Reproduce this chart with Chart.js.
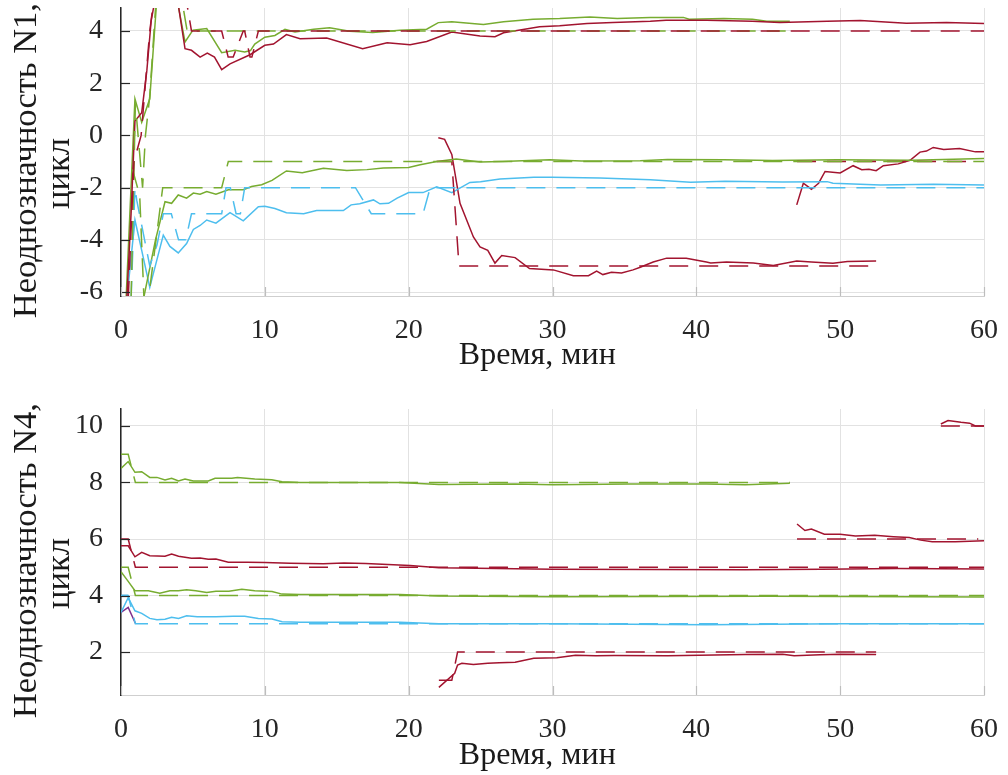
<!DOCTYPE html>
<html>
<head>
<meta charset="utf-8">
<script src="https://cdn.jsdelivr.net/npm/chart.js@4.4.1/dist/chart.umd.min.js"></script>
<style>
  body { margin: 0; background: #fff; }
  canvas { position: absolute; left: 0; }
  #c1 { top: 0; }
  #c2 { top: 400px; }
</style>
</head>
<body>
<canvas id="c1" width="1008" height="400"></canvas>
<canvas id="c2" width="1008" height="375"></canvas>
<script>
// colours (MATLAB palette)
var RED = '#A2142F', GREEN = '#77AC30', CYAN = '#4DBEEE', PURPLE = '#7E2F8E', BLUE = '#0072BD';

var xTicks = [0, 10, 20, 30, 40, 50, 60];
var n1Ticks = [-6, -4, -2, 0, 2, 4];
var n4Ticks = [2, 4, 6, 8, 10];

// ---- N1 (top panel): [time, ambiguity] ----
var n1RedA = [[0.4,-6.3],[0.7,-3],[0.97,0.55],[1.44,0.87],[1.8,2.5],[2.1,4.4],[2.4,5.3],[3.2,7],[3.9,5.3],[4.45,3.32],[4.9,3.26],[5.5,3.0],[6.0,3.15],[6.5,3.0],[7.0,2.52],[7.58,2.74],[8.97,3.09],[10.0,3.45],[10.6,3.5],[11.5,3.86],[12.45,3.7],[14.3,3.73],[16.8,3.32],[18.5,3.55],[20.1,3.47],[21.25,3.6],[23.0,3.96],[24.96,3.81],[26.0,3.78],[26.6,3.93],[29.1,4.16],[30.5,4.2],[32.4,4.29],[34.2,4.32],[36.8,4.37],[37.9,4.41],[40.7,4.41],[43.9,4.37],[45.8,4.32],[49.1,4.37],[51.4,4.4],[54.6,4.3],[57.4,4.32],[60,4.29]];
var n1RedAFix = [[0.5,-6.3],[0.9,-1],[1.4,0],[1.7,2],[2.0,4],[2.3,5.3],[4.5,5.3],[4.9,4],[7.0,4],[7.45,3],[7.8,3],[8.5,4],[8.6,4],[8.97,3],[9.1,3],[9.55,4],[60,4]];
var n1GreenA = [[0.35,-6.3],[0.97,1.4],[1.44,0.5],[2.0,1.4],[2.5,5.3],[3.5,6],[3.97,5.0],[4.45,3.58],[5.0,4.03],[5.96,4.09],[7.0,3.17],[7.93,3.26],[8.6,3.2],[9.0,3.25],[9.3,3.5],[10.0,3.76],[10.7,3.83],[11.4,4.06],[12.1,3.96],[13.4,4.07],[14.5,4.12],[15.9,3.99],[17.5,3.94],[19.4,4.03],[21.25,4.07],[22.06,4.32],[23.0,4.35],[24.0,4.31],[25.2,4.25],[26.6,4.35],[28.65,4.45],[30.5,4.48],[32.6,4.54],[34.5,4.48],[36.8,4.52],[39.1,4.52],[39.5,4.45],[41.9,4.48],[43.9,4.45],[44.9,4.37],[46.5,4.37]];
var n1GreenAFix = [[0.7,-6.3],[1.0,1.2],[1.5,-2],[1.7,0],[2.0,1.5],[2.45,5.3],[4.2,5.3],[4.6,4],[46.5,4]];
var n1GreenB = [[1.55,-6.3],[2.4,-4],[3.06,-2.54],[3.52,-2.6],[3.98,-2.28],[4.56,-2.4],[5.03,-2.21],[5.5,-2.25],[5.96,-2.15],[6.6,-2.25],[7.46,-2.08],[8.5,-2.08],[9.08,-1.96],[9.78,-1.89],[10.5,-1.72],[11.5,-1.36],[12.6,-1.43],[14.07,-1.26],[15.7,-1.34],[17.1,-1.31],[18.24,-1.25],[20.0,-1.23],[20.8,-1.12],[21.95,-1.0],[23.3,-0.9],[24.96,-1.02],[26.5,-1.0],[29.8,-0.93],[32,-0.98],[36.1,-0.97],[38,-0.92],[41.9,-0.93],[45.3,-0.96],[49.8,-0.93],[55,-0.95],[60,-0.88]];
var n1GreenBFix = [[0.8,-1.3],[1.3,-2.3],[1.6,-6.3],[1.9,-6.3],[2.9,-2],[7.0,-2],[7.46,-1],[60,-1]];
var n1Cyan = [[0.4,-6.3],[0.97,-3.24],[1.44,-4.4],[2.0,-5.82],[2.94,-3.82],[3.4,-4.25],[3.98,-4.5],[4.56,-4.14],[5.03,-3.6],[5.5,-3.45],[5.96,-3.24],[6.6,-3.36],[7.58,-2.96],[8.5,-3.27],[9.55,-2.73],[10.0,-2.71],[10.7,-2.8],[11.5,-2.96],[12.7,-3.0],[13.6,-2.88],[15.46,-2.88],[16.0,-2.66],[16.6,-2.62],[17.55,-2.47],[18.0,-2.62],[18.6,-2.6],[19.2,-2.4],[20.0,-2.19],[21.0,-2.19],[21.95,-1.97],[23.0,-2.19],[24.26,-1.8],[25.0,-1.77],[26.35,-1.67],[28.7,-1.6],[29.95,-1.6],[33.3,-1.63],[36.8,-1.7],[39.6,-1.79],[42,-1.76],[46,-1.78],[49.1,-1.77],[49.5,-1.83],[52.8,-1.9],[56.5,-1.87],[60,-1.9]];
var n1CyanFix = [[0.7,-6.3],[0.97,-2],[1.1,-2.5],[2.0,-5],[2.5,-4.2],[2.94,-3],[3.5,-3],[4.0,-4],[4.5,-4],[4.9,-3],[7.0,-3],[7.3,-2],[7.6,-2],[8.0,-3],[8.3,-3],[8.6,-2],[16.3,-2],[17.4,-3],[21.0,-3],[21.5,-2],[60,-2]];
var n1RedB = [[22.06,-0.09],[22.5,-0.15],[23.0,-0.73],[23.57,-2.6],[24.5,-3.89],[24.96,-4.27],[25.5,-4.4],[26.0,-4.89],[26.47,-4.6],[27.4,-4.68],[28.4,-5.1],[30.06,-5.15],[31.45,-5.37],[32.5,-5.37],[33.07,-5.2],[33.5,-5.33],[34.1,-5.24],[34.8,-5.27],[35.6,-5.15],[36.1,-5.05],[37.0,-4.85],[37.94,-4.7],[39.3,-4.7],[40.7,-4.85],[41.0,-4.89],[42.1,-4.85],[43.96,-4.89],[45.35,-4.98],[46.98,-4.81],[48,-4.85],[49.5,-4.9],[50.5,-4.83],[52.5,-4.81]];
var n1RedBFix = [[21.95,-1],[23.0,-1],[23.5,-5],[52.3,-5]];
var n1RedC = [[46.98,-2.66],[47.44,-1.83],[48.0,-2.06],[48.5,-1.83],[48.95,-1.38],[50.0,-1.44],[50.9,-1.16],[51.5,-1.31],[52.0,-1.3],[52.5,-1.35],[53.0,-1.16],[54.04,-1.09],[54.86,-0.95],[55.55,-0.64],[56.0,-0.6],[56.47,-0.46],[57.2,-0.54],[58.3,-0.5],[59.4,-0.63],[60,-0.63]];
var n1RedCFix = [[47.0,-1],[59.5,-1]];

// ---- N4 (bottom panel) ----
var n4GreenA = [[0,8.5],[0.5,8.74],[0.97,8.36],[1.44,8.38],[2.0,8.18],[2.5,8.18],[3.06,8.09],[3.52,8.15],[4.0,8.05],[4.45,8.12],[5.03,8.05],[6.07,8.05],[6.54,8.15],[7.7,8.15],[8.1,8.18],[9.3,8.12],[10.48,8.1],[11.2,8.03],[12.45,8.0],[19.4,8.0],[22.1,7.93],[27.4,7.95],[30.05,7.92],[35.4,7.95],[40.7,7.95],[43.4,7.92],[46.5,7.97]];
var n4GreenAFix = [[0,9],[0.5,9],[1.0,8],[46.5,8]];
var n4RedA = [[0,5.76],[0.5,5.76],[0.97,5.37],[1.44,5.53],[2.0,5.41],[3.06,5.39],[3.52,5.47],[4.0,5.39],[4.9,5.32],[5.5,5.33],[6.07,5.28],[6.6,5.29],[7.46,5.18],[8.8,5.18],[10.0,5.17],[11.75,5.14],[14.07,5.12],[15.5,5.15],[17,5.13],[20.1,5.06],[22.1,4.98],[30.05,4.93],[43.4,4.91],[48.7,4.93],[54.0,4.96],[60,4.94]];
var n4RedAFix = [[0,6],[0.5,6],[1.0,5],[60,5]];
var n4GreenB = [[0,4.84],[0.5,4.5],[0.97,4.17],[1.9,4.17],[2.7,4.08],[3.4,4.17],[4.0,4.17],[4.56,4.2],[5.2,4.17],[5.96,4.11],[6.6,4.15],[7.5,4.15],[8.4,4.22],[9.3,4.17],[10.5,4.14],[11.2,4.05],[12.45,4.04],[19.4,4.04],[22.1,3.98],[30,3.96],[45,3.97],[60,3.95]];
var n4GreenBFix = [[0,5],[0.5,5],[1.0,4],[60,4]];
var n4Cyan = [[0,3.4],[0.5,3.92],[0.97,3.46],[1.44,3.37],[2.0,3.19],[2.5,3.14],[3.06,3.16],[3.52,3.23],[4.0,3.19],[4.56,3.28],[5.3,3.25],[6.6,3.25],[7.8,3.27],[8.6,3.27],[9.55,3.19],[10.5,3.17],[11.2,3.07],[12.45,3.05],[19.4,3.05],[22.1,3.0],[30,3.0],[40.7,2.97],[50,3.0],[60,3.0]];
var n4CyanFix = [[0,4],[0.5,4],[1.0,3],[60,3]];
var n4Blue = [[0,4],[0.5,4]];
var n4Purple = [[0,3.4],[0.5,3.58],[1.0,3.02]];
var n4RedB = [[22.1,0.75],[23.2,1.25],[23.4,1.54],[23.7,1.6],[24.5,1.56],[25.5,1.6],[26.3,1.62],[27.4,1.64],[28.7,1.78],[30.3,1.8],[31.6,1.89],[33.0,1.87],[34.3,1.88],[38.0,1.87],[40.2,1.89],[43.4,1.91],[46.0,1.92],[46.8,1.87],[48.6,1.9],[50.0,1.92],[52.5,1.91]];
var n4RedBFix = [[22.1,1],[23.0,1],[23.4,2],[52.5,2]];
var n4RedC = [[47.0,6.53],[47.55,6.3],[48.0,6.35],[48.9,6.17],[50.0,6.17],[51.06,6.11],[52.4,6.13],[53.7,6.08],[54.8,6.05],[55.6,5.96],[56.4,5.9],[58.0,5.9],[60,5.94]];
var n4RedCFix = [[47.0,6],[59.6,6]];
var n4RedD = [[57.0,10.07],[57.5,10.19],[58.4,10.13],[59.0,10.1],[59.4,10.0],[60,10.0]];
var n4RedDFix = [[57.0,10],[60,10]];

var SERIF = '"Liberation Serif", "Times New Roman", serif';
var xTitle = 'Время, мин   \u2009';

function ds(points, color, dashed) {
    return {
        data: points.map(function (p) { return {x: p[0], y: p[1]}; }),
        borderColor: color,
        borderWidth: 1.5,
        borderDash: dashed ? [19, 11] : [],
        pointRadius: 0,
        tension: 0,
        fill: false
    };
}

// MATLAB style inward tick marks
var innerTicks = {
    id: 'innerTicks',
    afterDraw: function (chart) {
        var ctx = chart.ctx, a = chart.chartArea;
        var ys = chart.scales.y, xs = chart.scales.x;
        ctx.save();
        ctx.lineWidth = 1.2;
        ctx.strokeStyle = '#262626';
        ys.ticks.forEach(function (t) {
            var py = Math.round(ys.getPixelForValue(t.value)) + 0.5;
            ctx.beginPath(); ctx.moveTo(a.left, py); ctx.lineTo(a.left + 9, py); ctx.stroke();
        });
        ctx.strokeStyle = '#bdbdbd';
        xs.ticks.forEach(function (t) {
            var px = Math.round(xs.getPixelForValue(t.value)) + 0.5;
            ctx.beginPath(); ctx.moveTo(px, a.bottom); ctx.lineTo(px, a.bottom - 9); ctx.stroke();
        });
        ctx.restore();
    }
};

function makeChart(id, o) {
    new Chart(document.getElementById(id), {
        type: 'line',
        data: {datasets: o.datasets},
        options: {
            responsive: false,
            animation: false,
            layout: {padding: {top: o.padTop, right: 24, left: 0, bottom: 0}},
            plugins: {legend: {display: false}, tooltip: {enabled: false}},
            scales: {
                x: {
                    type: 'linear', min: 0, max: 60,
                    afterBuildTicks: function (s) { s.ticks = xTicks.map(function (v) { return {value: v}; }); },
                    afterFit: function (s) { s.height = o.xHeight; s.paddingLeft = 0; s.paddingRight = 0; },
                    grid: {color: '#e2e2e2', drawTicks: false},
                    border: {color: '#cfcfcf', width: 1},
                    ticks: {padding: o.tickPad, color: '#262626', font: {family: SERIF, size: 28}, maxRotation: 0},
                    title: {display: true, text: xTitle, color: '#1a1a1a',
                            font: {family: SERIF, size: 32, lineHeight: 1.2}, padding: {top: 0, bottom: o.titlePad}}
                },
                y: {
                    type: 'linear', min: o.yMin, max: o.yMax,
                    afterBuildTicks: function (s) { s.ticks = o.yTicks.map(function (v) { return {value: v}; }); },
                    afterFit: function (s) { s.width = 121; s.paddingTop = 0; s.paddingBottom = 0; },
                    grid: {color: '#e2e2e2', drawTicks: false},
                    border: {color: '#262626', width: 1.5},
                    ticks: {padding: 18, color: '#262626', font: {family: SERIF, size: 28}},
                    title: {display: true, text: o.yTitle, color: '#1a1a1a',
                            font: {family: SERIF, size: 34.5, lineHeight: 0.95}, padding: {top: 10.6, bottom: 0}}
                }
            }
        },
        plugins: [innerTicks]
    });
}

makeChart('c1', {
    padTop: 8, xHeight: 104, tickPad: 18, titlePad: 25,
    yMin: -6.15, yMax: 4.88, yTicks: n1Ticks,
    yTitle: ['Неоднозначность N1,  ', 'цикл     '],
    datasets: [
        ds(n1RedAFix, RED, true), ds(n1GreenAFix, GREEN, true),
        ds(n1GreenBFix, GREEN, true), ds(n1CyanFix, CYAN, true),
        ds(n1RedBFix, RED, true), ds(n1RedCFix, RED, true),
        ds(n1RedA, RED, false), ds(n1GreenA, GREEN, false),
        ds(n1GreenB, GREEN, false), ds(n1Cyan, CYAN, false),
        ds(n1RedB, RED, false), ds(n1RedC, RED, false)
    ]
});

makeChart('c2', {
    padTop: 9, xHeight: 80, tickPad: 18, titlePad: 0,
    yMin: 0.48, yMax: 10.6, yTicks: n4Ticks,
    yTitle: ['Неоднозначность N4,  ', 'цикл     '],
    datasets: [
        ds(n4GreenAFix, GREEN, true), ds(n4RedAFix, RED, true),
        ds(n4GreenBFix, GREEN, true), ds(n4CyanFix, CYAN, true),
        ds(n4RedBFix, RED, true), ds(n4RedCFix, RED, true), ds(n4RedDFix, RED, true),
        ds(n4GreenA, GREEN, false), ds(n4RedA, RED, false),
        ds(n4GreenB, GREEN, false), ds(n4Cyan, CYAN, false),
        ds(n4Blue, BLUE, false), ds(n4Purple, PURPLE, false),
        ds(n4RedB, RED, false), ds(n4RedC, RED, false), ds(n4RedD, RED, false)
    ]
});
</script>
</body>
</html>
